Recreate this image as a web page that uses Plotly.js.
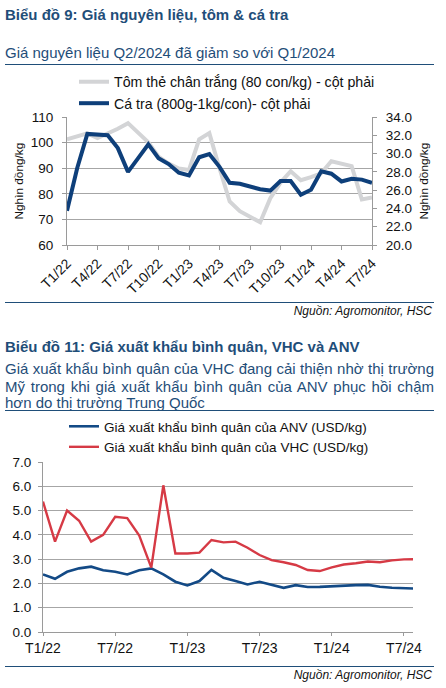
<!DOCTYPE html>
<html>
<head>
<meta charset="utf-8">
<script src="https://cdn.plot.ly/plotly-3.0.1.min.js"></script>
<style>
  html, body { margin:0; padding:0; background:#fff; }
  body { width:446px; height:688px; position:relative; overflow:hidden; font-family:'Liberation Sans', Arial, sans-serif; }
  .t { position:absolute; white-space:nowrap; }
  .h { left:5px; font-weight:bold; font-size:15px; color:#1F4E79; line-height:18px; }
  .s { left:5px; font-size:15px; color:#1F4E79; line-height:18px; }
  .rule { position:absolute; left:5px; width:429px; height:0; border-top:1.3px solid #1F4E79; }
  .src { position:absolute; right:14px; font-style:italic; font-size:12px; color:#111; line-height:14px; }
  .j { position:absolute; left:5px; width:429px; font-size:15px; color:#1F4E79; line-height:18px; text-align:justify; text-align-last:justify; white-space:nowrap; }
  #c1 { position:absolute; left:0; top:66px; width:446px; height:234px; }
  #c2 { position:absolute; left:0; top:411px; width:446px; height:254px; }
</style>
</head>
<body>
<div class="t h" style="top:6px;">Biểu đồ 9: Giá nguyên liệu, tôm &amp; cá tra</div>
<div class="t s" style="top:44px;">Giá nguyên liệu Q2/2024 đã giảm so với Q1/2024</div>
<div class="rule" style="top:63.5px;"></div>
<div id="c1"></div>
<div class="rule" style="top:302px;"></div>
<div class="src" style="top:304px;">Nguồn: Agromonitor, HSC</div>

<div class="t h" style="top:338px;">Biểu đồ 11: Giá xuất khẩu bình quân, VHC và ANV</div>
<div class="j" style="top:360px;">Giá xuất khẩu bình quân của VHC đang cải thiện nhờ thị trường</div>
<div class="j" style="top:377.5px;">Mỹ trong khi giá xuất khẩu bình quân của ANV phục hồi chậm</div>
<div class="t s" style="top:393.5px;">hơn do thị trường Trung Quốc</div>
<div class="rule" style="top:410px;"></div>
<div id="c2"></div>
<div class="rule" style="top:666px;"></div>
<div class="src" style="top:667.5px;">Nguồn: Agromonitor, HSC</div>

<script>
// ---------- Chart 9 data ----------
const months1 = ['T1/22','T2/22','T3/22','T4/22','T5/22','T6/22','T7/22','T8/22','T9/22','T10/22','T11/22','T12/22',
                 'T1/23','T2/23','T3/23','T4/23','T5/23','T6/23','T7/23','T8/23','T9/23','T10/23','T11/23','T12/23',
                 'T1/24','T2/24','T3/24','T4/24','T5/24','T6/24','T7/24'];
const ticks1 = ['T1/22','T4/22','T7/22','T10/22','T1/23','T4/23','T7/23','T10/23','T1/24','T4/24','T7/24'];
const shrimpName = 'Tôm thẻ chân trắng (80 con/kg) - cột phải';
const catfishName = 'Cá tra (800g-1kg/con)- cột phải';
const shrimp = [101.3, 102.3, 103.6, 101.8, 103.4, 105.4, 107.6, 103.8, 100.1, 94.5, 91.8, 89.9,
                89.3, 101.3, 103.7, 90.0, 77.0, 73.2, 71.0, 68.9, 78.3, 84.4, 88.8, 85.3,
                86.5, 88.0, 92.7, 91.8, 90.8, 77.8, 78.6];
const catfish = [23.75, 28.4, 32.15, 32.1, 32.0, 30.6, 28.0, 29.5, 31.0, 29.5, 28.85, 27.9,
                 27.6, 29.6, 29.95, 28.55, 26.8, 26.7, 26.4, 26.1, 25.95, 27.0, 27.0, 25.5,
                 26.05, 28.05, 27.8, 26.95, 27.25, 27.15, 26.8];
const yTitle1 = 'Nghìn đồng/kg';

// ---------- Chart 11 data ----------
const months2 = ['T1/22','T2/22','T3/22','T4/22','T5/22','T6/22','T7/22','T8/22','T9/22','T10/22','T11/22','T12/22',
                 'T1/23','T2/23','T3/23','T4/23','T5/23','T6/23','T7/23','T8/23','T9/23','T10/23','T11/23','T12/23',
                 'T1/24','T2/24','T3/24','T4/24','T5/24','T6/24','T7/24','T8/24'];
const ticks2 = ['T1/22','T7/22','T1/23','T7/23','T1/24','T7/24'];
const anvName = 'Giá xuất khẩu bình quân của ANV (USD/kg)';
const vhcName = 'Giá xuất khẩu bình quân của VHC (USD/kg)';
const anv = [2.37, 2.19, 2.48, 2.62, 2.69, 2.54, 2.48, 2.37, 2.54, 2.62, 2.37, 2.07,
             1.92, 2.10, 2.56, 2.23, 2.10, 1.96, 2.07, 1.96, 1.82, 1.93, 1.85, 1.86,
             1.89, 1.90, 1.93, 1.94, 1.86, 1.82, 1.79, 1.79];
const vhc = [5.37, 3.72, 5.00, 4.58, 3.72, 4.00, 4.74, 4.69, 3.97, 2.65, 6.04, 3.23,
             3.23, 3.27, 3.79, 3.69, 3.72, 3.47, 3.17, 2.96, 2.87, 2.76, 2.55, 2.51,
             2.66, 2.78, 2.83, 2.90, 2.87, 2.95, 2.99, 3.00];

const FONT = 'Liberation Sans, Arial, sans-serif';
const GRID = '#a6a6a6';
const AXIS = '#9a9a9a';
const NAVY = '#0e3f7a';
const cfg = {staticPlot:true, displayModeBar:false};

// ---------- Chart 9 ----------
Plotly.newPlot('c1', [
  {x: months1, y: shrimp, name: shrimpName, type:'scatter', mode:'lines',
   line:{color:'#d3d4d6', width:4}, yaxis:'y'},
  {x: months1, y: catfish, name: catfishName, type:'scatter', mode:'lines',
   line:{color:NAVY, width:4}, yaxis:'y2'}
], {
  width:446, height:234,
  margin:{l:66.7, r:74.3, t:51.3, b:55, pad:0, autoexpand:false},
  paper_bgcolor:'rgba(0,0,0,0)', plot_bgcolor:'rgba(0,0,0,0)',
  font:{family:FONT, size:13, color:'#111'},
  showlegend:true,
  legend:{xref:'container', yref:'container', x:74/446, xanchor:'left', y:1, yanchor:'top',
          font:{family:FONT, size:14.2, color:'#111'}, bgcolor:'rgba(0,0,0,0)', tracegroupgap:0},
  annotations:[
    {text:yTitle1, xref:'paper', yref:'paper', x:0, y:0.5, xshift:-48.5, textangle:-90,
     showarrow:false, xanchor:'center', yanchor:'middle', font:{family:FONT, size:11.8, color:'#111'}},
    {text:yTitle1, xref:'paper', yref:'paper', x:1, y:0.5, xshift:51.5, textangle:-90,
     showarrow:false, xanchor:'center', yanchor:'middle', font:{family:FONT, size:11.8, color:'#111'}}
  ],
  xaxis:{type:'category', categoryorder:'array', categoryarray:months1, range:[0,30],
         tickmode:'array', tickvals:ticks1, ticktext:ticks1, tickangle:-45,
         showgrid:false, showline:true, linecolor:AXIS, linewidth:1,
         ticks:'outside', ticklen:4, tickcolor:AXIS, zeroline:false, automargin:false,
         tickfont:{family:FONT, size:13.8, color:'#111'}},
  yaxis:{range:[60,110], dtick:10, tick0:60, showgrid:true, gridcolor:GRID, gridwidth:1,
         showline:true, linecolor:AXIS, ticks:'outside', ticklen:4, tickcolor:AXIS, zeroline:false,
         ticklabelstandoff:6, automargin:false,
         tickfont:{family:FONT, size:13.5, color:'#111'}},
  yaxis2:{range:[20,34], dtick:2, tick0:20, tickformat:'.1f', overlaying:'y', side:'right',
          showgrid:false, showline:true, linecolor:AXIS, ticks:'outside', ticklen:4, tickcolor:AXIS,
          zeroline:false, ticklabelstandoff:6, automargin:false,
          tickfont:{family:FONT, size:13.5, color:'#111'}}
}, cfg);

// ---------- Chart 11 ----------
Plotly.newPlot('c2', [
  {x: months2, y: anv, name: anvName, type:'scatter', mode:'lines',
   line:{color:'#134a86', width:2.6}},
  {x: months2, y: vhc, name: vhcName, type:'scatter', mode:'lines',
   line:{color:'#d63a45', width:2.4}}
], {
  width:446, height:254,
  margin:{l:43.3, r:33.3, t:51.3, b:33, pad:0, autoexpand:false},
  paper_bgcolor:'rgba(0,0,0,0)', plot_bgcolor:'rgba(0,0,0,0)',
  font:{family:FONT, size:13, color:'#111'},
  showlegend:true,
  legend:{xref:'container', yref:'container', x:64/446, xanchor:'left', y:1, yanchor:'top',
          font:{family:FONT, size:13.5, color:'#111'}, bgcolor:'rgba(0,0,0,0)', tracegroupgap:0},
  xaxis:{type:'category', categoryorder:'array', categoryarray:months2, range:[0,30.75],
         tickmode:'array', tickvals:ticks2, ticktext:ticks2, tickangle:0,
         showgrid:false, showline:true, linecolor:AXIS, linewidth:1,
         ticks:'outside', ticklen:3, tickcolor:AXIS, zeroline:false, automargin:false,
         tickfont:{family:FONT, size:14, color:'#111'}},
  yaxis:{range:[0,7], dtick:1, tick0:0, tickformat:'.1f', showgrid:true, gridcolor:GRID, gridwidth:1,
         showline:true, linecolor:AXIS, ticks:'outside', ticklen:4, tickcolor:AXIS, zeroline:false,
         ticklabelstandoff:4, automargin:false,
         tickfont:{family:FONT, size:13.5, color:'#111'}}
}, cfg);
</script>
</body>
</html>
